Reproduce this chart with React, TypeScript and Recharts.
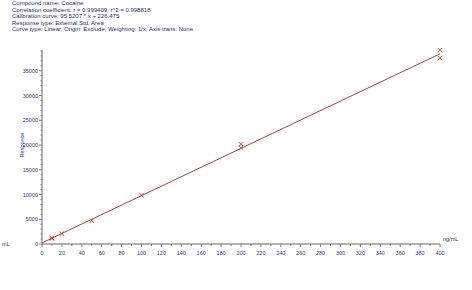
import { ComposedChart, Scatter, XAxis, YAxis } from "recharts"

const headerLines = [
  "Compound name: Cocaine",
  "Correlation coefficient: r = 0.999409, r^2 = 0.998818",
  "Calibration curve: 95.5207 * x + 226.475",
  "Response type: External Std, Area",
  "Curve type: Linear, Origin: Exclude, Weighting: 1/x, Axis trans: None",
]

// calibration standards (ng/mL) and measured responses
const concentrations = [10, 10, 20, 50, 100, 200, 200, 400, 400]
const responses = [1100, 1250, 2100, 4700, 9850, 19450, 20150, 39150, 37550]

// fitted line end points
const fitX = [0, 400]
const fitY = [226.475, 38434.755]

const xTicks = [0, 10, 20, 30, 40, 50, 60, 70, 80, 90, 100, 110, 120, 130, 140, 150, 160, 170, 180, 190, 200, 210, 220, 230, 240, 250, 260, 270, 280, 290, 300, 310, 320, 330, 340, 350, 360, 370, 380, 390, 400]
const yTicks = [0, 1000, 2000, 3000, 4000, 5000, 6000, 7000, 8000, 9000, 10000, 11000, 12000, 13000, 14000, 15000, 16000, 17000, 18000, 19000, 20000, 21000, 22000, 23000, 24000, 25000, 26000, 27000, 28000, 29000, 30000, 31000, 32000, 33000, 34000, 35000, 36000, 37000, 38000, 39000]

const points = concentrations.map((x, i) => ({ x, y: responses[i] }))
const fitLine = fitX.map((x, i) => ({ x, y: fitY[i] }))

const LABEL = "#2b3a8c"
const AXIS = "#666"
const FONT = "Liberation Sans, Arial, sans-serif"

function XTick({ x, y, payload }: any) {
  const major = payload.value % 20 === 0
  return (
    <g>
      <line x1={x} x2={x} y1={y} y2={y + (major ? 3 : 2)} stroke={AXIS} strokeWidth={0.8} />
      {major && (
        <text x={x} y={y + 11} textAnchor="middle" fontSize={5.5} fill={LABEL} fontFamily={FONT}>
          {payload.value}
        </text>
      )}
    </g>
  )
}

function YTick({ x, y, payload }: any) {
  const major = payload.value % 5000 === 0
  return (
    <g>
      <line x1={x - (major ? 3 : 1.5)} x2={x} y1={y} y2={y} stroke={AXIS} strokeWidth={0.8} />
      {major && (
        <text x={x - 4} y={y + 2} textAnchor="end" fontSize={5.5} fill={LABEL} fontFamily={FONT}>
          {payload.value}
        </text>
      )}
    </g>
  )
}

function Cross({ cx, cy }: any) {
  const s = 2.2
  return (
    <g stroke="#c0392b" strokeWidth={0.9}>
      <line x1={cx - s} y1={cy - s} x2={cx + s} y2={cy + s} />
      <line x1={cx - s} y1={cy + s} x2={cx + s} y2={cy - s} />
    </g>
  )
}

export default function App() {
  return (
    <div style={{ position: "absolute", left: 0, top: 0, width: 472, height: 290, background: "#fff", fontFamily: FONT }}>
      <div style={{ position: "absolute", left: 12, top: 0, fontSize: 6, lineHeight: "6.5px", color: "#2a3370" }}>
        {headerLines.map((line) => (
          <div key={line}>{line}</div>
        ))}
      </div>
      <div
        style={{
          position: "absolute",
          left: 22,
          top: 145,
          fontSize: 5.5,
          color: LABEL,
          transform: "translate(-50%, -50%) rotate(-90deg)",
          whiteSpace: "nowrap",
        }}
      >
        Response
      </div>
      <div style={{ position: "absolute", left: 443, top: 236, fontSize: 5.5, color: LABEL }}>ng/mL</div>
      <div style={{ position: "absolute", left: 2, top: 241, fontSize: 5.5, color: LABEL }}>mL</div>
      <ComposedChart width={472} height={290} margin={{ top: 50, right: 32, bottom: 26, left: 0 }}>
        <XAxis
          type="number"
          dataKey="x"
          domain={[0, 400]}
          ticks={xTicks}
          interval={0}
          height={20}
          stroke={AXIS}
          tickLine={false}
          tickSize={0}
          tickMargin={0}
          tick={<XTick />}
        />
        <YAxis
          type="number"
          dataKey="y"
          domain={[0, 39200]}
          ticks={yTicks}
          interval={0}
          width={42}
          stroke={AXIS}
          tickLine={false}
          tickSize={0}
          tickMargin={0}
          tick={<YTick />}
        />
        <Scatter
          data={fitLine}
          line={{ stroke: "#a8443c", strokeWidth: 1 }}
          shape={() => null}
          isAnimationActive={false}
        />
        <Scatter data={points} shape={<Cross />} isAnimationActive={false} />
      </ComposedChart>
    </div>
  )
}
